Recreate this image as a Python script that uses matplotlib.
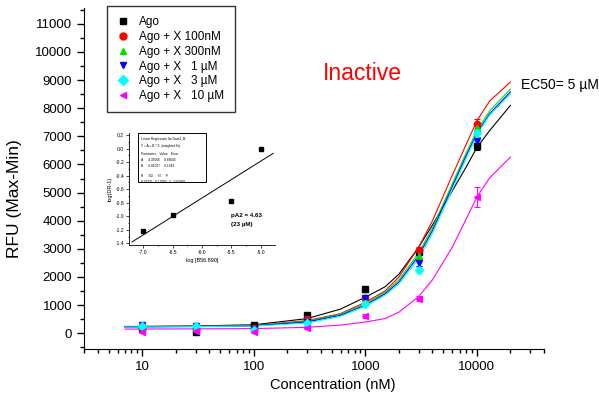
import matplotlib
matplotlib.use("Agg")
import matplotlib.pyplot as plt
from matplotlib.lines import Line2D
from matplotlib.patches import Rectangle
from matplotlib.ticker import (FixedLocator, MultipleLocator, NullFormatter,
                               FormatStrFormatter, LogLocator)

plt.rcParams['font.family'] = ['Liberation Sans', 'DejaVu Sans']
plt.rcParams['axes.unicode_minus'] = False

# measured points (nM vs RFU)
conc = [10, 30, 100, 300, 1000, 3000, 10000]
ago = [180, 60, 300, 650, 1560, 2900, 6650]
x100 = [200, 180, 200, 520, 1250, 2950, 7450]
x300 = [250, 220, 150, 450, 1150, 2750, 7300]
x1u = [280, 250, 150, 400, 1250, 2500, 6850]
x3u = [260, 270, 120, 380, 1050, 2250, 7100]
x10u = [60, 80, 60, 200, 620, 1230, 4840]

err_ago = [50, 50, 50, 60, 80, 100, 120]
err_100 = [50, 50, 50, 60, 80, 100, 150]
err_300 = [50, 50, 50, 60, 80, 100, 120]
err_1u = [50, 50, 50, 60, 80, 100, 120]
err_3u = [50, 50, 50, 60, 80, 100, 120]
err_10u = [50, 50, 50, 60, 80, 100, 350]

# fitted curves
fit_conc = [7, 10, 30, 100, 300, 600, 1000, 1500, 2000, 3000, 4000, 6000, 8000, 10000, 13000, 20000]
fit_ago = [240, 245, 260, 300, 520, 860, 1280, 1650, 2100, 3050, 3850, 5050, 5900, 6600, 7200, 8100]
fit_100 = [230, 235, 245, 270, 450, 700, 1100, 1500, 2000, 3050, 4000, 5600, 6700, 7550, 8250, 8930]
fit_300 = [230, 235, 245, 265, 430, 680, 1050, 1450, 1900, 2850, 3750, 5300, 6400, 7200, 7900, 8680]
fit_1u = [225, 230, 240, 260, 400, 640, 1000, 1400, 1820, 2750, 3650, 5200, 6300, 7100, 7800, 8580]
fit_3u = [220, 225, 235, 255, 360, 600, 960, 1350, 1750, 2650, 3550, 5100, 6200, 7050, 7750, 8500]
fit_10u = [150, 150, 155, 165, 210, 290, 400, 520, 750, 1300, 1900, 3050, 4050, 4840, 5520, 6260]

labels = ['Ago', 'Ago + X 100nM', 'Ago + X 300nM', 'Ago + X   1 µM', 'Ago + X   3 µM', 'Ago + X   10 µM']
colors = ['black', '#ff0000', '#00e000', '#0000ff', '#00ffff', '#ff00ff']
markers = ['s', 'o', '^', 'v', 'D', '<']

# Schild plot inset
schild_x = [-7.0, -6.5, -5.5, -5.0]
schild_y = [-1.22, -0.98, -0.78, -0.01]
schild_line_x = [-7.19, -4.79]
schild_line_y = [-1.38, -0.07]

fig = plt.figure(figsize=(5.99, 3.98), dpi=100)
ax = fig.add_axes([0.1402, 0.1231, 0.7680, 0.8568])

series = [ago, x100, x300, x1u, x3u, x10u]
errs = [err_ago, err_100, err_300, err_1u, err_3u, err_10u]
fits = [fit_ago, fit_100, fit_300, fit_1u, fit_3u, fit_10u]

for fit, c in zip(fits, colors):
    ax.plot(fit_conc, fit, color=c, lw=0.8, zorder=2)

for y, e, c, m in zip(series, errs, colors, markers):
    ms = 4.5 if m in ('D', 'o') else 5
    ax.errorbar(conc, y, yerr=e, fmt=m, color=c, ms=ms, capsize=2.5,
                elinewidth=0.8, capthick=0.8, zorder=3)

ax.set_xscale('log')
ax.set_xlim(3, 40000)
ax.set_ylim(-560, 11560)
ax.xaxis.set_major_locator(FixedLocator([10, 100, 1000, 10000]))
ax.xaxis.set_major_formatter(FormatStrFormatter('%d'))
ax.xaxis.set_minor_locator(LogLocator(base=10, subs=range(2, 10), numticks=20))
ax.xaxis.set_minor_formatter(NullFormatter())
ax.yaxis.set_major_locator(MultipleLocator(1000))
ax.yaxis.set_minor_locator(MultipleLocator(500))
ax.tick_params(which='both', direction='out', labelsize=9.5, width=1)
ax.tick_params(which='major', length=5)
ax.tick_params(which='minor', length=3)
ax.spines['top'].set_visible(False)
ax.spines['right'].set_visible(False)
ax.set_xlabel('Concentration (nM)', fontsize=10.5)
ax.set_ylabel('RFU (Max-Min)', fontsize=12.5)
ax.xaxis.set_label_coords(0.541, -0.085)
ax.yaxis.set_label_coords(-0.135, 0.44)

handles = [Line2D([], [], ls='none', marker=m, color=c, ms=5) for m, c in zip(markers, colors)]
leg = fig.legend(handles, labels, loc='upper left', bbox_to_anchor=(0.1786, 0.985),
                 fontsize=8.5, frameon=True, fancybox=False, edgecolor='black',
                 borderpad=0.85, labelspacing=0.24, handlelength=1.0, handletextpad=0.9,
                 borderaxespad=0)
leg.get_frame().set_linewidth(1.0)

fig.text(0.605, 0.815, 'Inactive', color='#ff0000', fontsize=16.5, ha='center', va='center')
fig.text(0.870, 0.786, 'EC50= 5 µM', fontsize=10, ha='left', va='center')

# inset
ins = fig.add_axes([0.2154, 0.3844, 0.2437, 0.2814])
ins.plot(schild_line_x, schild_line_y, color='black', lw=0.7)
ins.plot(schild_x, schild_y, 's', color='black', ms=2.2)
ins.set_xlim(-7.24, -4.76)
ins.set_ylim(-1.425, 0.23)
ins.xaxis.set_major_locator(MultipleLocator(0.5))
ins.xaxis.set_minor_locator(MultipleLocator(0.25))
ins.yaxis.set_major_locator(MultipleLocator(0.2))
ins.yaxis.set_minor_locator(MultipleLocator(0.1))
ins.xaxis.set_major_formatter(FormatStrFormatter('%.1f'))
ins.yaxis.set_major_formatter(FormatStrFormatter('%.1f'))
ins.tick_params(which='both', direction='out', labelsize=3.6, width=0.5, pad=1.5)
ins.tick_params(which='major', length=2)
ins.tick_params(which='minor', length=1)
for s in ('top', 'right'):
    ins.spines[s].set_visible(False)
for s in ('left', 'bottom'):
    ins.spines[s].set_linewidth(0.6)
ins.set_xlabel('log [B56.890]', fontsize=4, labelpad=2)
ins.set_ylabel('log(DR-1)', fontsize=4, labelpad=2)

ins.add_patch(Rectangle((0.062, 0.5625), 0.465, 0.4375, transform=ins.transAxes,
                        fill=True, facecolor='white', edgecolor='black', lw=0.7, zorder=4))
box_lines = [
    'Linear Regression for Data1_B:',
    'Y = A + B * X  (weighted fit)',
    'Parameter    Value    Error',
    'A      4.39066     0.83645',
    'B      0.81007     0.1343',
    'R      SD      N      P',
    '0.97332   0.17000   4   0.02668',
]
for i, line in enumerate(box_lines):
    ins.text(0.08, 0.96 - i * 0.055 - (0.02 if i >= 2 else 0) - (0.03 if i >= 5 else 0),
             line, transform=ins.transAxes, fontsize=2.3, va='top', zorder=5)
ins.text(0.70, 0.26, 'pA2 = 4.63', transform=ins.transAxes, fontsize=4.5,
         fontweight='bold', va='center')
ins.text(0.70, 0.18, '(23 µM)', transform=ins.transAxes, fontsize=4.5,
         fontweight='bold', va='center')

fig.savefig('out.png', dpi=100)
